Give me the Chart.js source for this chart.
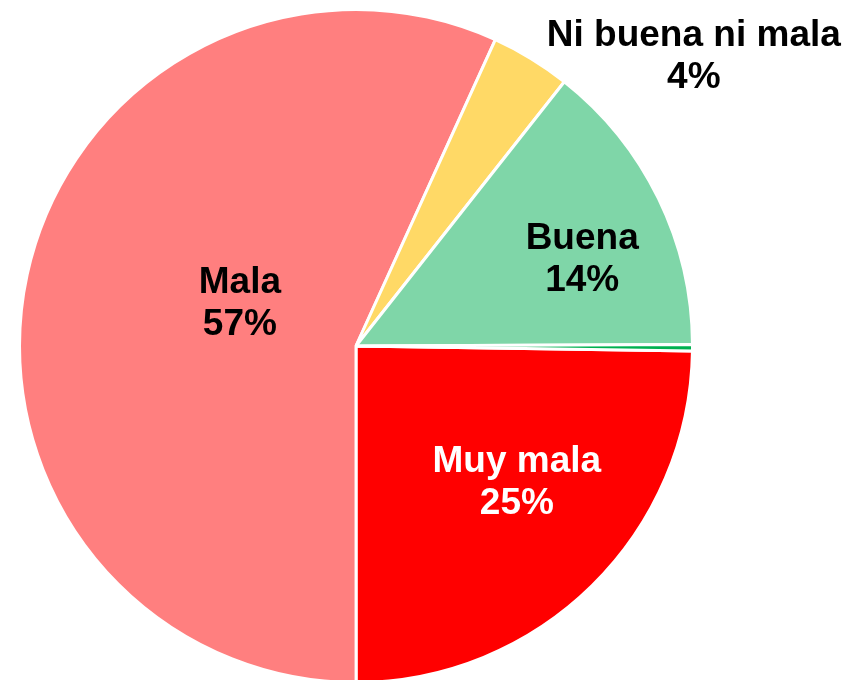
<!DOCTYPE html>
<html>
<head>
<meta charset="utf-8">
<script src="https://cdn.jsdelivr.net/npm/chart.js@4"></script>
<style>
    html, body { margin: 0; padding: 0; background: #fff; overflow: hidden; }
    #wrap { position: absolute; left: 0; top: 0; width: 858px; height: 700px; }
</style>
</head>
<body>
<div id="wrap"><canvas id="pie"></canvas></div>
<script>
// --- data (clockwise from 3 o'clock) ---
const categories = ['Muy mala', 'Mala', 'Ni buena ni mala', 'Buena', 'Muy buena'];
const shares = [24.76, 56.8, 3.83, 14.3, 0.31];
const shownPct = ['25%', '57%', '4%', '14%', null];

// --- styling ---
const sliceColors = ['#ff0000', '#ff7f7f', '#ffd966', '#7fd6a8', '#00b050'];
const labelColors = ['#ffffff', '#000000', '#000000', '#000000', null];
// label position: shift from slice mid-angle (deg) and distance as share of radius
const labelShift = [-5.3, 8.1, 18, 5, 0];
const labelDist = [0.625, 0.368, 1.323, 0.72, 0];

const sliceLabels = {
    id: 'sliceLabels',
    afterDatasetsDraw(chart) {
        const ctx = chart.ctx;
        const arcs = chart.getDatasetMeta(0).data;
        ctx.save();
        ctx.font = 'bold 37px "Liberation Sans", Arial, sans-serif';
        ctx.textAlign = 'center';
        ctx.textBaseline = 'middle';
        arcs.forEach((arc, i) => {
            if (!shownPct[i]) return;
            const p = arc.getProps(['x', 'y', 'startAngle', 'endAngle', 'outerRadius'], true);
            const a = (p.startAngle + p.endAngle) / 2 + labelShift[i] * Math.PI / 180;
            const r = p.outerRadius * labelDist[i];
            const cx = p.x + Math.cos(a) * r;
            const cy = p.y + Math.sin(a) * r;
            ctx.fillStyle = labelColors[i];
            ctx.fillText(categories[i], cx, cy - 20);
            ctx.fillText(shownPct[i], cx, cy + 22);
        });
        ctx.restore();
    }
};

new Chart(document.getElementById('pie'), {
    type: 'pie',
    data: {
        labels: categories,
        datasets: [{ data: shares, backgroundColor: sliceColors, borderColor: '#ffffff', borderWidth: 3 }]
    },
    options: {
        responsive: true, maintainAspectRatio: false, animation: false,
        rotation: 90.85,
        layout: { padding: { left: 18, top: 8, right: 164, bottom: 16 } },
        plugins: { legend: { display: false }, tooltip: { enabled: false } }
    },
    plugins: [sliceLabels]
});
</script>
</body>
</html>
